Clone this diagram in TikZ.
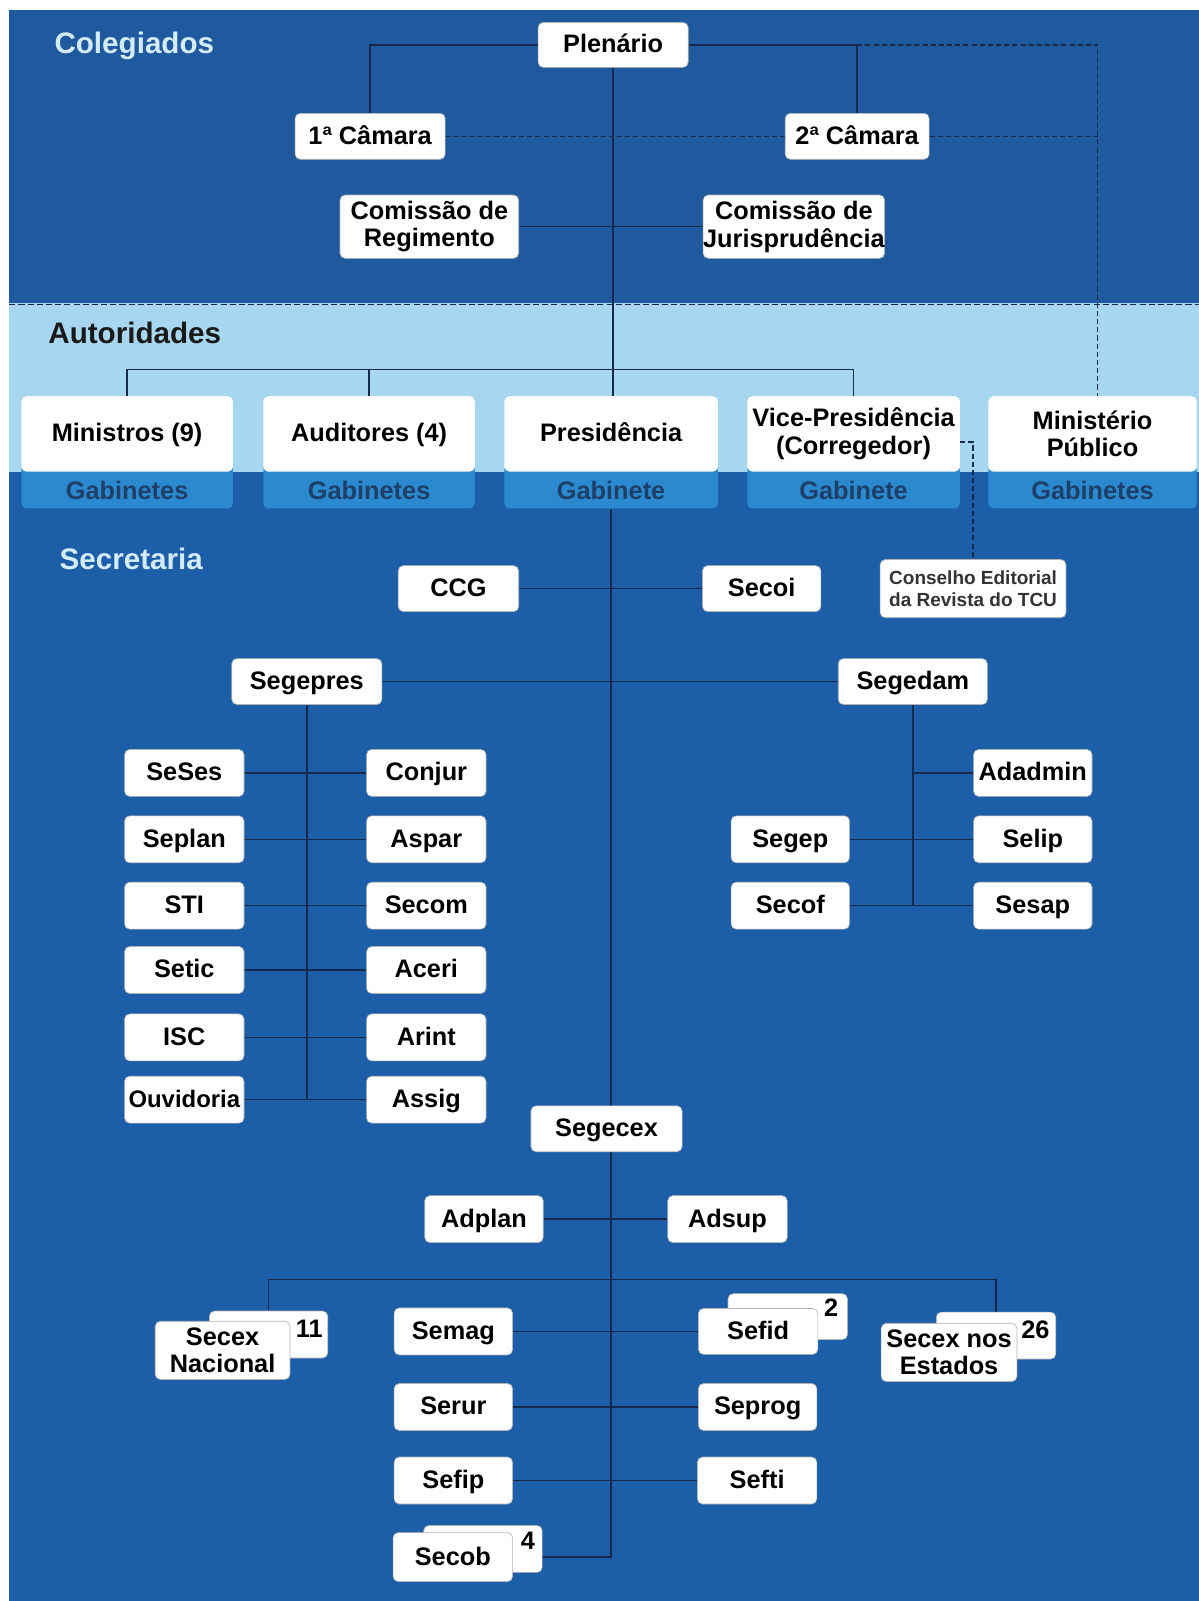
\documentclass[tikz,border=0pt]{standalone}
\usepackage{fontspec}
\setmainfont{Liberation Sans}
\pgfdeclarelayer{bg}
\pgfdeclarelayer{lines}
\pgfsetlayers{bg,lines,main}
\definecolor{colbg}{HTML}{205A9E}
\definecolor{secbg}{HTML}{1C5FA8}
\definecolor{autbg}{HTML}{A7D7F0}
\definecolor{gabc}{HTML}{2B89CF}
\definecolor{lnc}{HTML}{15294A}
\definecolor{lbl}{HTML}{D4ECF8}
\definecolor{gabtxt}{HTML}{1D3F68}
\begin{document}
\begin{tikzpicture}[x=0.5pt,y=-0.5pt,
 every node/.style={inner sep=0pt},
 wb/.style 2 args={fill=white, draw=black!30, line width=0.3pt, rounded corners=2.5pt,
   minimum width=#1*0.5pt, minimum height=#2*0.5pt,
   font=\bfseries\fontsize{12.4}{13.5}\selectfont, align=center, text=black},
 sl/.style={text height=9.3pt, text depth=1.5pt},
 gab/.style={fill=gabc, rounded corners=2.5pt, minimum width=#1*0.5pt, minimum height=21.5pt,
   font=\bfseries\fontsize{12.4}{13.5}\selectfont, text=gabtxt, text height=13pt, text depth=0pt},
 num/.style={font=\bfseries\fontsize{12.4}{13.5}\selectfont, text=black},
 sec/.style={font=\bfseries\fontsize{14.5}{16}\selectfont, anchor=base west},
 ln/.style={draw=lnc, line width=0.7pt},
 dl/.style={draw=lnc, line width=0.7pt, dash pattern=on 2.5pt off 1.5pt},
]
\useasboundingbox (0,0) rectangle (1174,1568);
\begin{pgfonlayer}{bg}
\fill[white] (0,0) rectangle (1174,1568);
\fill[colbg] (9,10) rectangle (1174,297);
\fill[autbg] (9,297) rectangle (1174,462);
\fill[secbg] (9,462) rectangle (1174,1568);
\draw[lnc, line width=0.6pt, dash pattern=on 3pt off 1.5pt] (9,298.5) -- (1174,298.5);
\end{pgfonlayer}

% section labels
\node[sec, text=lbl] (tcol) at (53,52) {Colegiados};
\node[sec, text=black!90] (taut) at (47,336) {Autoridades};
\node[sec, text=lbl] (tsec) at (58,558) {Secretaria};

% Colegiados
\node[wb={147}{44}, sl] (plen) at (600.5,44) {Plenário};
\node[wb={147}{45}, sl] (cam1) at (362.5,133.5) {1ª Câmara};
\node[wb={141}{45}, sl] (cam2) at (839.5,133.5) {2ª Câmara};
\node[wb={175}{62}] (creg) at (420.5,222) {Comissão de\\Regimento};
\node[wb={177}{62}] (cjur) at (777.5,222) {Comissão de\\Jurisprudência};

% Autoridades
\node[gab=207] (ming) at (124.5,476.5) {Gabinetes};
\node[gab=207] (audg) at (361.5,476.5) {Gabinetes};
\node[gab=209] (presg) at (598.5,476.5) {Gabinete};
\node[gab=208] (vpg) at (836,476.5) {Gabinete};
\node[gab=204] (mpg) at (1070,476.5) {Gabinetes};
\node[wb={207}{74}, sl, draw=none] (min) at (124.5,425) {Ministros (9)};
\node[wb={207}{74}, sl, draw=none] (aud) at (361.5,425) {Auditores (4)};
\node[wb={209}{74}, sl, draw=none] (pres) at (598.5,425) {Presidência};
\node[wb={208}{74}, draw=none] (vp) at (836,425) {Vice-Presidência\\(Corregedor)};
\node[wb={204}{74}, draw=none] (mp) at (1070,425) {Ministério\\Público};

% Secretaria
\node[wb={118}{45}, sl] (ccg) at (449,576.5) {CCG};
\node[wb={116}{45}, sl] (secoi) at (746,576.5) {Secoi};
\node[wb={182}{57}, font=\bfseries\fontsize{9.3}{11}\selectfont, text=black!80] (cons) at (953,576.5) {Conselho Editorial\\da Revista do TCU};
\node[wb={147}{45}, sl] (segepres) at (300.5,667.5) {Segepres};
\node[wb={146}{45}, sl] (segedam) at (894,667.5) {Segedam};

\node[wb={117}{46}, sl] (sses) at (180.5,757) {SeSes};
\node[wb={117}{46}, sl] (seplan) at (180.5,822) {Seplan};
\node[wb={117}{46}, sl] (sti) at (180.5,887) {STI};
\node[wb={117}{46}, sl] (setic) at (180.5,950) {Setic};
\node[wb={117}{46}, sl] (isc) at (180.5,1016) {ISC};
\node[wb={117}{46}, sl, font=\bfseries\fontsize{11.7}{12.5}\selectfont] (ouv) at (180.5,1077) {Ouvidoria};
\node[wb={117}{46}, sl] (conjur) at (417.5,757) {Conjur};
\node[wb={117}{46}, sl] (aspar) at (417.5,822) {Aspar};
\node[wb={117}{46}, sl] (secom) at (417.5,887) {Secom};
\node[wb={117}{46}, sl] (aceri) at (417.5,950) {Aceri};
\node[wb={117}{46}, sl] (arint) at (417.5,1016) {Arint};
\node[wb={117}{46}, sl] (assig) at (417.5,1077) {Assig};

\node[wb={116}{46}, sl] (adadmin) at (1011.5,757) {Adadmin};
\node[wb={116}{46}, sl] (segep) at (774,822) {Segep};
\node[wb={116}{46}, sl] (selip) at (1011.5,822) {Selip};
\node[wb={116}{46}, sl] (secof) at (774,887) {Secof};
\node[wb={116}{46}, sl] (sesap) at (1011.5,887) {Sesap};

\node[wb={148}{45}, sl] (segecex) at (594,1105.5) {Segecex};
\node[wb={116}{46}, sl] (adplan) at (474,1194) {Adplan};
\node[wb={117}{46}, sl] (adsup) at (712.5,1194) {Adsup};

\node[wb={116}{46}] (nacb) at (263,1307) {};
\node[num] (n11) at (303,1301) {11};
\node[wb={132}{57}] (nac) at (218,1322.5) {Secex\\Nacional};

\node[wb={116}{46}, sl] (semag) at (444,1304) {Semag};
\node[wb={117}{45}] (sefidb) at (771.5,1289.5) {};
\node[num] (n2) at (814,1281) {2};
\node[wb={117}{45}, sl] (sefid) at (742.5,1304) {Sefid};

\node[wb={117}{46}] (estb) at (975.5,1308) {};
\node[num] (n26) at (1014,1302) {26};
\node[wb={133}{57}] (est) at (929.5,1324.5) {Secex nos\\Estados};

\node[wb={116}{46}, sl] (serur) at (444,1378) {Serur};
\node[wb={116}{46}, sl] (seprog) at (742,1378) {Seprog};
\node[wb={116}{46}, sl] (sefip) at (444,1450) {Sefip};
\node[wb={117}{46}, sl] (sefti) at (741.5,1450) {Sefti};

\node[wb={116}{46}] (secobb) at (473,1517) {};
\node[num] (n4) at (517,1509) {4};
\node[wb={117}{48}, sl] (secob) at (443.5,1525) {Secob};

\coordinate (dj) at (1075,44);
\coordinate (abar) at (600,362);
\coordinate (sbar) at (598.5,1253);

\begin{pgfonlayer}{lines}
\draw[ln] (plen.west) -| (cam1.north);
\draw[ln] (plen.east) -| (cam2.north);
\draw[dl] (cam2.north |- plen.east) -- (dj) -- (dj |- mp.north);
\draw[dl] (cam1.east) -- (cam2.west);
\draw[dl] (cam2.east) -- (cam2.east -| dj);
\draw[ln] (creg.east) -- (cjur.west);
\draw[ln] (plen.south) -- (plen.south |- pres.north);
\draw[ln] (min.north) |- (abar) -| (vp.north);
\draw[ln] (aud.north) -- (aud.north |- abar);
\draw[dl] ([yshift=-4pt]vp.east) -| (cons.north);
\draw[ln] (presg.south) -- (presg.south |- secob.east) -- (secobb.east |- secob.east);
\draw[ln] (ccg.east) -- (secoi.west);
\draw[ln] (segepres.east) -- (segedam.west);
\draw[ln] (segepres.south) -- (segepres.south |- ouv.east);
\foreach \a/\b in {sses/conjur, seplan/aspar, sti/secom, setic/aceri, isc/arint, ouv/assig}
  \draw[ln] (\a.east) -- (\b.west);
\draw[ln] (segedam.south) -- (segedam.south |- sesap.west);
\draw[ln] (segedam.south |- adadmin.west) -- (adadmin.west);
\draw[ln] (segep.east) -- (selip.west);
\draw[ln] (secof.east) -- (sesap.west);
\draw[ln] (adplan.east) -- (adsup.west);
\draw[ln] (nacb.north) |- (sbar) -| (estb.north);
\draw[ln] (semag.east) -- (sefid.west);
\draw[ln] (serur.east) -- (seprog.west);
\draw[ln] (sefip.east) -- (sefti.west);
\end{pgfonlayer}
\end{tikzpicture}
\end{document}
